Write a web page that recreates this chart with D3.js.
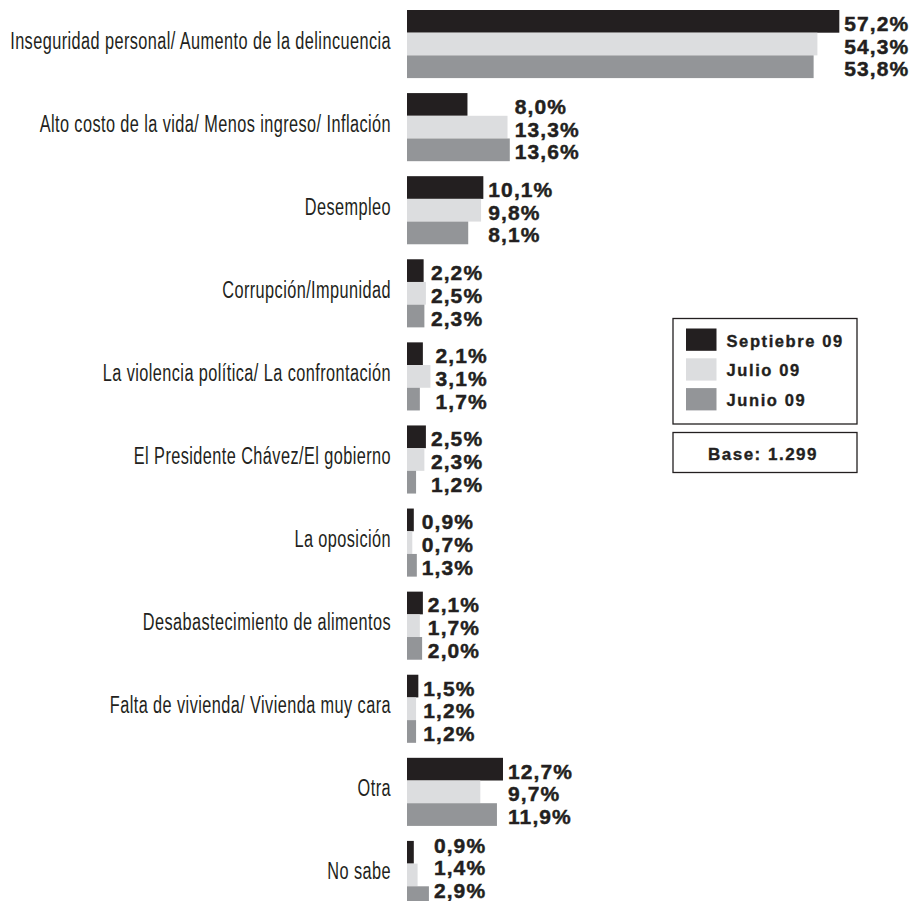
<!DOCTYPE html>
<html>
<head>
<meta charset="utf-8">
<script src="https://cdn.jsdelivr.net/npm/d3@7"></script>
<style>
  html, body { margin: 0; padding: 0; background: #ffffff; }
  svg { display: block; }
</style>
</head>
<body>
<svg id="chart" width="910" height="901"></svg>
<script>
// Problemas principales del país: respuestas por medición
const categories = [
  "Inseguridad personal/ Aumento de la delincuencia",
  "Alto costo de la vida/ Menos ingreso/ Inflación",
  "Desempleo",
  "Corrupción/Impunidad",
  "La violencia política/ La confrontación",
  "El Presidente Chávez/El gobierno",
  "La oposición",
  "Desabastecimiento de alimentos",
  "Falta de vivienda/ Vivienda muy cara",
  "Otra",
  "No sabe"
];
const seriesNames = ["Septiebre 09", "Julio 09", "Junio 09"];
const septiembre09 = [57.2, 8.0, 10.1, 2.2, 2.1, 2.5, 0.9, 2.1, 1.5, 12.7, 0.9];
const julio09      = [54.3, 13.3, 9.8, 2.5, 3.1, 2.3, 0.7, 1.7, 1.2, 9.7, 1.4];
const junio09      = [53.8, 13.6, 8.1, 2.3, 1.7, 1.2, 1.3, 2.0, 1.2, 11.9, 2.9];
const seriesColors = ["#231f20", "#dcdddf", "#939598"];
const baseText = "Base: 1.299";

const seriesValues = [septiembre09, julio09, junio09];
const rows = categories.map((c, i) => ({
  category: c,
  values: seriesValues.map((s, j) => ({ series: seriesNames[j], value: s[i], idx: j }))
}));

const W = 910, H = 901;
const svg = d3.select("#chart");
const ink = "#231f20";
const fmt = v => d3.format(".1f")(v).replace(".", ",") + "%";

const x = d3.scaleLinear().domain([0, 60]).range([407, 407 + 60 * 7.558]);
const y0 = d3.scaleBand().domain(categories).range([10, 909]).paddingInner(0.1805).paddingOuter(0);
const y1 = d3.scaleBand().domain(d3.range(seriesNames.length)).range([0, y0.bandwidth()]);

const groups = svg.append("g").selectAll("g.grupo")
  .data(rows).join("g")
  .attr("class", "grupo")
  .attr("transform", d => `translate(0,${y0(d.category)})`);

groups.selectAll("rect")
  .data(d => d.values).join("rect")
  .attr("x", x(0))
  .attr("y", d => y1(d.idx))
  .attr("width", d => x(d.value) - x(0))
  .attr("height", y1.bandwidth())
  .attr("fill", d => seriesColors[d.idx]);

// etiquetas de valor alineadas tras la barra más larga del grupo;
// el último grupo se sube para que sus cifras queden dentro del lienzo
const labelDrop = 9.5;
groups.each(function(d) {
  const maxEnd = x(d3.max(d.values, v => v.value));
  const top = y0(d.category);
  const lastBase = top + y1(d.values.length - 1) + y1.bandwidth() / 2 + labelDrop;
  const shift = Math.min(0, (H - 3) - lastBase);
  d3.select(this).selectAll("text.valor")
    .data(d.values).join("text")
    .attr("class", "valor")
    .attr("x", maxEnd + 5)
    .attr("y", v => y1(v.idx) + y1.bandwidth() / 2 + labelDrop + shift)
    .attr("font-family", "'Liberation Sans', Arial, sans-serif")
    .attr("font-weight", "bold")
    .attr("font-size", 21)
    .attr("letter-spacing", 1.1)
    .attr("stroke", ink)
    .attr("stroke-width", 0.45)
    .style("font-variant-numeric", "tabular-nums")
    .attr("fill", ink)
    .text(v => fmt(v.value));
});

// etiquetas de categoría, tipografía condensada
const catLabels = groups.append("g")
  .attr("transform", `translate(391,${y0.bandwidth() / 2 + 4.5})`)
  .append("text")
  .attr("text-anchor", "end")
  .attr("font-family", "'Liberation Sans Narrow', 'Liberation Sans', sans-serif")
  .attr("font-size", 23)
  .attr("letter-spacing", 0.6)
  .attr("fill", ink)
  .text(d => d.category);

const widest = catLabels.node().getComputedTextLength();
const sx = 381 / widest;
catLabels.attr("transform", `scale(${sx},1)`);

// leyenda
const legend = svg.append("g");
legend.append("rect")
  .attr("x", 673).attr("y", 318.5).attr("width", 184).attr("height", 105.5)
  .attr("fill", "none").attr("stroke", ink).attr("stroke-width", 1.3);
const items = legend.selectAll("g.item").data(seriesNames).join("g")
  .attr("class", "item")
  .attr("transform", (d, i) => `translate(686,${328.5 + i * 29.8})`);
items.append("rect")
  .attr("width", 30.5).attr("height", 22.3)
  .attr("fill", (d, i) => seriesColors[i]);
items.append("text")
  .attr("x", 40.5).attr("y", 18)
  .attr("font-family", "'Liberation Sans', Arial, sans-serif")
  .attr("font-weight", "bold")
  .attr("font-size", 16.5)
  .attr("letter-spacing", 1.6)
  .attr("stroke", ink)
  .attr("stroke-width", 0.35)
  .attr("fill", ink)
  .text(d => d);

legend.append("rect")
  .attr("x", 673).attr("y", 432.5).attr("width", 184).attr("height", 40)
  .attr("fill", "none").attr("stroke", ink).attr("stroke-width", 1.3);
legend.append("text")
  .attr("x", 763).attr("y", 459.5)
  .attr("text-anchor", "middle")
  .attr("font-family", "'Liberation Sans', Arial, sans-serif")
  .attr("font-weight", "bold")
  .attr("font-size", 17)
  .attr("letter-spacing", 1.5)
  .attr("stroke", ink)
  .attr("stroke-width", 0.35)
  .attr("fill", ink)
  .text(baseText);
</script>
</body>
</html>
